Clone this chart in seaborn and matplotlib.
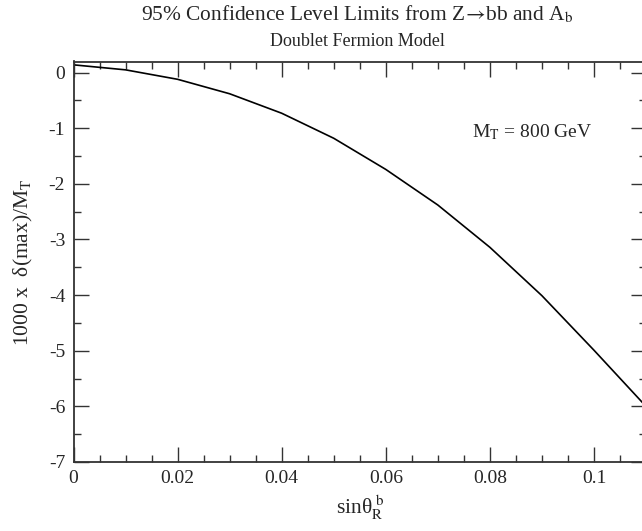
import numpy as np
import pandas as pd
import matplotlib
matplotlib.use("Agg")
import matplotlib.pyplot as plt
import matplotlib.ticker as mticker
import seaborn as sns

# Limit curve for M_T = 800 GeV
sin_theta = [0.00, 0.01, 0.02, 0.03, 0.04, 0.05, 0.06, 0.07, 0.08, 0.09, 0.10, 0.11]
delta_max = [0.14, 0.05, -0.12, -0.38, -0.73, -1.18, -1.74, -2.38, -3.14, -4.01, -4.99, -6.00]

sns.set_theme(style="ticks")
plt.rcParams["font.family"] = ["Liberation Serif", "DejaVu Serif"]
plt.rcParams["mathtext.fontset"] = "stix"
plt.rcParams["axes.unicode_minus"] = False

df = pd.DataFrame({"x": sin_theta, "y": delta_max})

fig = plt.figure(figsize=(6.42, 5.31), dpi=100)
ax = fig.add_axes([73.5 / 642, 1 - 462 / 531, (646 - 73.5) / 642, (462 - 61.5) / 531])

sns.lineplot(data=df, x="x", y="y", ax=ax, color="black", linewidth=1.2)

ax.set_xlim(0, 0.11)
ax.set_ylim(-7, 0.2)
ax.xaxis.set_major_locator(mticker.MultipleLocator(0.02))
ax.xaxis.set_minor_locator(mticker.MultipleLocator(0.005))
ax.yaxis.set_major_locator(mticker.MultipleLocator(1))
ax.yaxis.set_minor_locator(mticker.MultipleLocator(0.5))
ax.xaxis.set_major_formatter(mticker.FuncFormatter(lambda v, p: f"{v:g}"))
ax.yaxis.set_major_formatter(mticker.FuncFormatter(lambda v, p: f"{v:g}"))

ax.tick_params(which="both", direction="in", top=True, right=True,
               color="#333333", width=1.0, labelsize=14)
ax.tick_params(which="major", length=11, pad=6)
ax.tick_params(which="minor", length=5)
for s in ax.spines.values():
    s.set_linewidth(1.3)
    s.set_color("#333333")

ax.set_xlabel(r"sinθ$_\mathrm{R}^{\ \mathrm{b}}$", fontsize=15.5, labelpad=4)
ax.set_ylabel(r"1000 x  δ(max)/M$_\mathrm{T}$", fontsize=15.5, labelpad=10)

ax.text(0.0765, -1.07, r"M$_\mathrm{T}$ = 800 GeV", fontsize=14, va="center", ha="left")

fig.text(357 / 642, 1 - 14 / 531,
         r"95% Confidence Level Limits from Z$\!\rightarrow\!$bb and A$_\mathrm{b}$",
         fontsize=15.4, ha="center", va="center")
fig.text(357 / 642, 1 - 42 / 531, "Doublet Fermion Model", fontsize=13, ha="center", va="center")

fig.savefig("out.png", dpi=100)
